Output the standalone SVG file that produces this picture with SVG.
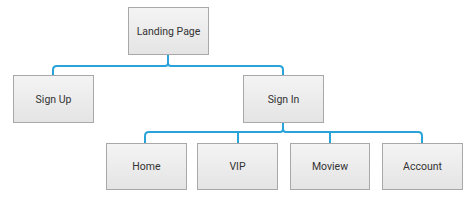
<svg xmlns="http://www.w3.org/2000/svg" width="475" height="202" viewBox="0 0 475 202">
<defs>
<linearGradient id="g" x1="0" y1="0" x2="0" y2="1">
<stop offset="0" stop-color="#f4f4f4"/>
<stop offset="1" stop-color="#e4e4e4"/>
</linearGradient>
<style>
.box{fill:url(#g);stroke:#a8a8a8;stroke-width:1}
.lbl{font-family:Roboto,"Liberation Sans",Arial,sans-serif;font-size:10.5px;fill:#333;text-anchor:middle;dominant-baseline:central}
.c{fill:none;stroke:#2aa3d8;stroke-width:2;stroke-linecap:round;stroke-linejoin:round}
</style>
</defs>
<rect width="475" height="202" fill="#fff"/>
<g id="connectors">
<path class="c" d="M168 54 V63 Q168 66 165 66 H57 Q53 66 53 70 V75"/>
<path class="c" d="M168 63 Q168 66 171 66 H279 Q283 66 283 70 V75"/>
<path class="c" d="M283 122 V129 Q283 132 280 132 H149 Q145 132 145 136 V143"/>
<path class="c" d="M283 129 Q283 132 286 132 H418 Q422 132 422 136 V143"/>
<path class="c" d="M238 132 V143"/>
<path class="c" d="M330 132 V143"/>
</g>
<g id="landing"><rect class="box" x="128.5" y="7.5" width="80" height="47"/><text class="lbl" x="168.5" y="31">Landing Page</text></g>
<g id="signup"><rect class="box" x="13.5" y="75.5" width="80" height="47"/><text class="lbl" x="53.5" y="99">Sign Up</text></g>
<g id="signin"><rect class="box" x="243.5" y="75.5" width="80" height="47"/><text class="lbl" x="283.5" y="99">Sign In</text></g>
<g id="home"><rect class="box" x="106.5" y="143.5" width="80" height="46"/><text class="lbl" x="146.5" y="166.5">Home</text></g>
<g id="vip"><rect class="box" x="197.5" y="143.5" width="80" height="46"/><text class="lbl" x="237.5" y="166.5">VIP</text></g>
<g id="moview"><rect class="box" x="290.5" y="143.5" width="79" height="46"/><text class="lbl" x="330" y="166.5">Moview</text></g>
<g id="account"><rect class="box" x="382.5" y="143.5" width="80" height="46"/><text class="lbl" x="422.5" y="166.5">Account</text></g>
</svg>
